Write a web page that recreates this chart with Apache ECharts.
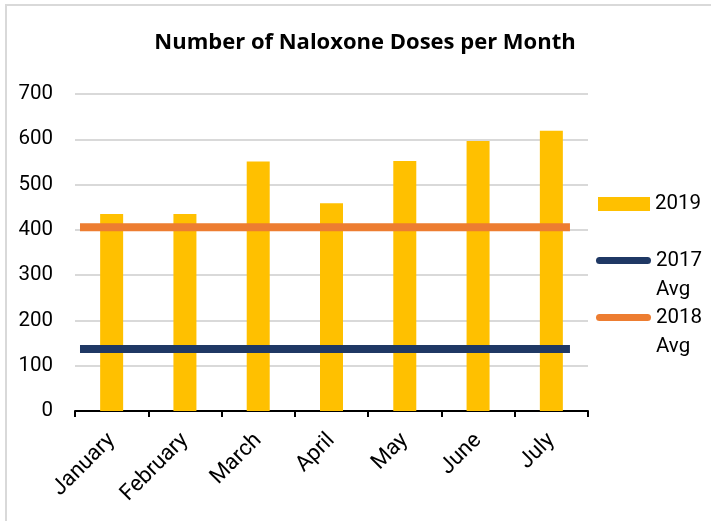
<!DOCTYPE html>
<html>
<head>
<meta charset="utf-8">
<script src="https://cdn.jsdelivr.net/npm/echarts@6/dist/echarts.min.js"></script>
<style>
  html, body { margin: 0; padding: 0; background: #fff; }
  #wrap { position: relative; width: 711px; height: 521px; overflow: hidden; }
  #chart { position: absolute; left: 0; top: 0; width: 711px; height: 521px; }
  #frame { position: absolute; left: 5px; top: 4px; width: 800px; height: 700px;
           border-left: 2px solid #d9d9d9; border-top: 2px solid #d9d9d9; pointer-events: none; }
</style>
</head>
<body>
<div id="wrap"><div id="chart"></div><div id="frame"></div></div>
<script>
const titleText = 'Number of Naloxone Doses per Month';
const categories = ['January', 'February', 'March', 'April', 'May', 'June', 'July'];
const doses2019 = [435, 435, 551, 459, 552, 596, 619];
const avg2017 = [137, 137, 137, 137, 137, 137, 137];
const avg2018 = [406, 406, 406, 406, 406, 406, 406];
const yMin = 0, yMax = 700, yInterval = 100;

const FONT = 'Roboto';
const chart = echarts.init(document.getElementById('chart'), null, { renderer: 'canvas' });
const capsule = 'path://M3.5,0 L51.5,0 A3.5,3.5 0 0 1 51.5,7 L3.5,7 A3.5,3.5 0 0 1 3.5,0 Z';

const option = {
  animation: false,
  backgroundColor: '#fff',
  title: {
    text: titleText,
    left: 360, top: 27, textAlign: 'center',
    textStyle: { fontFamily: 'Open Sans', fontWeight: 'bold', fontSize: 22, color: '#000' }
  },
  grid: { left: 75, right: 123, top: 94, bottom: 110, containLabel: false },
  legend: [
    {
      data: ['2019'], left: 598, top: 192, padding: 0,
      itemWidth: 52, itemHeight: 14, icon: 'rect',
      textStyle: { fontFamily: FONT, fontSize: 20.5, color: '#000', lineHeight: 24 }
    },
    {
      data: [{ name: '2017 Avg', icon: capsule }], left: 596, top: 217, padding: 0,
      itemWidth: 55, itemHeight: 7,
      formatter: n => '\u00a0\n' + n.replace(' ', '\n'),
      textStyle: { fontFamily: FONT, fontSize: 20.5, color: '#000', lineHeight: 29 }
    },
    {
      data: [{ name: '2018 Avg', icon: capsule }], left: 596, top: 274, padding: 0,
      itemWidth: 55, itemHeight: 7,
      formatter: n => '\u00a0\n' + n.replace(' ', '\n'),
      textStyle: { fontFamily: FONT, fontSize: 20.5, color: '#000', lineHeight: 29 }
    }
  ],
  xAxis: [
    {
      type: 'category', data: categories, boundaryGap: true,
      axisLine: { show: true, lineStyle: { color: '#000', width: 2 } },
      axisTick: { show: true, length: 6, lineStyle: { color: '#000', width: 2 } },
      axisLabel: { rotate: 45, margin: 26, interval: 0, fontFamily: FONT, fontSize: 22, color: '#000' },
      splitLine: { show: false }
    },
    {
      type: 'value', min: -0.0612, max: 6.221, show: false
    }
  ],
  yAxis: {
    type: 'value', min: yMin, max: yMax, interval: yInterval,
    axisLine: { show: false }, axisTick: { show: false },
    axisLabel: { margin: 22, fontFamily: FONT, fontSize: 20.5, color: '#000' },
    splitLine: { show: true, lineStyle: { color: '#d9d9d9', width: 2 } }
  },
  series: [
    {
      name: '2019', type: 'bar', xAxisIndex: 0, data: doses2019,
      barWidth: 23, itemStyle: { color: '#FFC000' }
    },
    {
      name: '2017 Avg', type: 'line', xAxisIndex: 1, symbol: 'none',
      data: avg2017.map((v, i) => [i, v]),
      itemStyle: { color: '#1F3864' },
      lineStyle: { color: '#1F3864', width: 8, cap: 'butt' }
    },
    {
      name: '2018 Avg', type: 'line', xAxisIndex: 1, symbol: 'none',
      data: avg2018.map((v, i) => [i, v]),
      itemStyle: { color: '#ED7D31' },
      lineStyle: { color: '#ED7D31', width: 8, cap: 'butt' }
    }
  ]
};
chart.setOption(option);
</script>
</body>
</html>
